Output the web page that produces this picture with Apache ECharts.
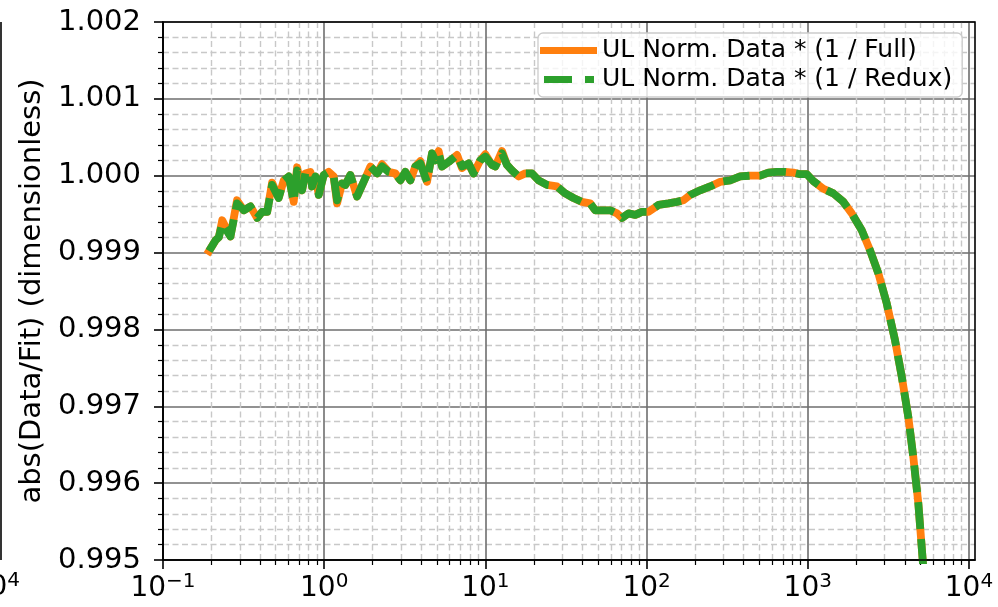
<!DOCTYPE html>
<html>
<head>
<meta charset="utf-8">
<script src="https://cdn.jsdelivr.net/npm/echarts@6/dist/echarts.min.js"></script>
<style>
  html, body { margin: 0; padding: 0; background: #fff; }
  #chart { width: 998px; height: 607px; }
</style>
</head>
<body>
<div id="chart"></div>
<script>
// x values (frequency), log-spaced axis
const freq = [
  0.193, 0.212, 0.222, 0.233, 0.262, 0.288, 0.317, 0.349, 0.384, 0.412,
  0.443, 0.475, 0.522, 0.561, 0.603, 0.647, 0.679, 0.729, 0.764, 0.821,
  0.841, 0.882, 0.925, 0.993, 1.066, 1.145, 1.202, 1.291, 1.353, 1.453,
  1.600, 1.801, 1.934, 2.128, 2.286, 2.512, 2.763, 2.968, 3.187, 3.422,
  3.676, 3.948, 4.345, 4.667, 4.892, 5.129, 5.383, 5.916, 6.668, 7.161,
  7.87, 8.45, 9.30, 9.99, 10.99, 11.52, 12.68, 13.61, 14.62, 16.07,
  17.68, 19.45, 21.38, 24.1, 27.8, 31.3, 35.2, 39.7, 44.7, 48.0,
  54.1, 59.5, 65.5, 70.3, 77.3, 85.0, 93.5, 102.8, 118.6, 136.8,
  154.2, 169.4, 186.3, 214.9, 247.9, 286.0, 329.9, 380.5, 438.9, 506.3,
  569.9, 642.5, 723.4, 814.4, 896.2, 985.8, 1083, 1250, 1441, 1662,
  1874, 2162, 2433, 2740, 3088, 3477, 3826, 4205, 4515, 4850,
  5164, 5413
];

const ratioFull = [
  0.99902, 0.99916, 0.99920, 0.99942, 0.99921, 0.99968, 0.99955, 0.99960, 0.99945, 0.99953,
  0.99953, 0.99991, 0.99971, 0.99994, 0.99999, 0.99966, 1.00011, 0.99981, 1.00003, 1.00005,
  0.99986, 0.99999, 0.99975, 1.00001, 1.00005, 0.99999, 0.99964, 0.99990, 0.99988, 1.00001,
  0.99973, 0.99997, 1.00012, 1.00003, 1.00015, 1.00005, 1.00003, 0.99994, 1.00005, 0.99994,
  1.00012, 1.00019, 0.99992, 1.00029, 1.00020, 1.00032, 1.00012, 1.00018, 1.00027, 1.00010,
  1.00016, 1.00003, 1.00020, 1.00028, 1.00014, 1.00012, 1.00032, 1.00014, 1.00007, 0.99999,
  1.00003, 1.00003, 0.99994, 0.99988, 0.99986, 0.99977, 0.99971, 0.99966, 0.99964, 0.99955,
  0.99955, 0.99955, 0.99951, 0.99945, 0.99951, 0.99949, 0.99953, 0.99953, 0.99962, 0.99964,
  0.99966, 0.99968, 0.99975, 0.99981, 0.99986, 0.99992, 0.99994, 0.99999, 1.00000, 1.00000,
  1.00004, 1.00005, 1.00005, 1.00004, 1.00002, 1.00002, 0.99993, 0.99983, 0.99977, 0.99966,
  0.99951, 0.99929, 0.99903, 0.99873, 0.99834, 0.99786, 0.99739, 0.99686, 0.99634, 0.99574,
  0.99500, 0.99448
];

const ratioRedux = [
  0.99902, 0.99916, 0.99920, 0.99938, 0.99921, 0.99964, 0.99955, 0.99960, 0.99945, 0.99953,
  0.99953, 0.99988, 0.99971, 0.99994, 0.99999, 0.99966, 1.00007, 0.99981, 1.00003, 1.00005,
  0.99986, 0.99999, 0.99975, 1.00001, 1.00005, 0.99999, 0.99968, 0.99990, 0.99988, 1.00001,
  0.99973, 0.99997, 1.00012, 1.00003, 1.00012, 1.00005, 1.00003, 0.99994, 1.00005, 0.99994,
  1.00012, 1.00016, 0.99992, 1.00029, 1.00020, 1.00029, 1.00012, 1.00018, 1.00027, 1.00012,
  1.00016, 1.00003, 1.00020, 1.00025, 1.00014, 1.00012, 1.00029, 1.00014, 1.00007, 0.99999,
  1.00003, 1.00003, 0.99994, 0.99988, 0.99986, 0.99977, 0.99971, 0.99966, 0.99964, 0.99955,
  0.99955, 0.99955, 0.99951, 0.99945, 0.99951, 0.99949, 0.99953, 0.99953, 0.99962, 0.99964,
  0.99966, 0.99968, 0.99975, 0.99981, 0.99986, 0.99992, 0.99994, 0.99999, 1.00000, 1.00000,
  1.00004, 1.00005, 1.00005, 1.00004, 1.00002, 1.00002, 0.99993, 0.99983, 0.99977, 0.99966,
  0.99951, 0.99929, 0.99903, 0.99873, 0.99834, 0.99786, 0.99739, 0.99686, 0.99634, 0.99574,
  0.99500, 0.99448
];

const seriesNames = ['UL Norm. Data * (1 / Full)', 'UL Norm. Data * (1 / Redux)'];
const xDecades = [-1, 0, 1, 2, 3, 4];      // labelled powers of ten
const xMinorMult = [2, 3, 4, 5, 6, 7, 8, 9];
const xMin = 0.1, xMax = 10900;
const yMin = 0.995, yMax = 1.002, yStep = 0.001;

const FONT = 'DejaVu Sans';
const lg = Math.log10;

// x axis is drawn in log10 space so minor decade lines can sit at 2..9
const toPoints = (ys) => freq.map((f, i) => [lg(f), ys[i]]);
const minorPos = [];
xDecades.slice(0, -1).forEach(e => xMinorMult.forEach(m => minorPos.push(e + lg(m))));

const rich = {
  b: { fontSize: 28, fontFamily: FONT, color: '#000' },
  s: { fontSize: 20, fontFamily: FONT, color: '#000', padding: [0, 0, 13, 0] }
};
const sup = (e) => '{b|10}{s|' + (e < 0 ? '\u2212' + (-e) : e) + '}';

const majorGrid = { color: '#6e6e6e', width: 1.6 };
const minorGrid = { color: '#c8c8c8', width: 1.4, type: [6, 3.5] };
const black = { color: '#000', width: 1.6 };

const chart = echarts.init(document.getElementById('chart'));
chart.setOption({
  animation: false,
  backgroundColor: '#fff',
  grid: {
    left: 163, right: 23, top: 22, bottom: 47,
    show: true, borderColor: '#000', borderWidth: 1.6, z: 10,
    outerBoundsMode: 'none'
  },
  legend: {
    orient: 'vertical',
    left: 538, top: 33,
    itemWidth: 57, itemHeight: 7, itemGap: 4,
    padding: [5, 10, 5, 2],
    backgroundColor: 'rgba(255,255,255,0.8)',
    borderColor: '#cccccc', borderWidth: 1.3, borderRadius: 5,
    textStyle: { fontSize: 25, fontFamily: FONT, color: '#000' },
    itemStyle: { borderWidth: 0 },
    data: [
      { name: seriesNames[0], icon: 'rect' },
      { name: seriesNames[1], icon: 'path://M0,3H0.01V3.01H0Z M4,0H32V7H4Z M45,0H54V7H45Z M57,3H57.01V3.01H57Z' }
    ]
  },
  xAxis: [
    {
      type: 'value', min: lg(xMin), max: lg(xMax),
      axisLine: { show: true, onZero: false, lineStyle: black },
      axisTick: { show: true, length: 9, lineStyle: black, customValues: xDecades },
      axisLabel: { customValues: xDecades, margin: 12, rich: rich,
        formatter: v => sup(Math.round(v)) },
      splitLine: { show: true, lineStyle: majorGrid }
    },
    {
      type: 'value', min: lg(xMin), max: lg(xMax), position: 'bottom',
      axisLine: { show: false, onZero: false },
      axisTick: { show: true, length: 5, lineStyle: { color: '#000', width: 1.2 }, customValues: minorPos },
      axisLabel: { show: false },
      splitLine: { show: true, lineStyle: minorGrid }
    }
  ],
  yAxis: {
    type: 'value', min: yMin, max: yMax, interval: yStep,
    name: 'abs(Data/Fit) (dimensionless)',
    nameLocation: 'middle', nameGap: 112,
    nameTextStyle: { fontSize: 29, fontFamily: FONT, color: '#000' },
    axisLine: { show: true, onZero: false, lineStyle: black },
    axisTick: { show: true, length: 9, lineStyle: black },
    minorTick: { show: true, splitNumber: 5, length: 5, lineStyle: { color: '#000', width: 1.2 } },
    axisLabel: { margin: 22, fontSize: 29, fontFamily: FONT, color: '#000',
      formatter: v => v.toFixed(3) },
    splitLine: { show: true, lineStyle: majorGrid },
    minorSplitLine: { show: true, lineStyle: minorGrid }
  },
  series: [
    {
      name: seriesNames[0], type: 'line', data: toPoints(ratioFull),
      symbol: 'none', showSymbol: false, color: '#ff7f0e', z: 3,
      lineStyle: { color: '#ff7f0e', width: 7.8, join: 'round', cap: 'square' }
    },
    {
      name: seriesNames[1], type: 'line', data: toPoints(ratioRedux),
      symbol: 'none', showSymbol: false, color: '#2ca02c', z: 4,
      lineStyle: { color: '#2ca02c', width: 7.8, type: [27, 10], join: 'round', cap: 'butt' }
    }
  ],
  graphic: [
    // edge of the neighbouring panel, cut off by the frame
    { type: 'line', shape: { x1: 1, y1: 22, x2: 1, y2: 560 }, style: { stroke: '#000', lineWidth: 1.6 } },
    { type: 'text', x: 20, y: 571, style: { text: sup(4), rich: rich, align: 'right', verticalAlign: 'top' } }
  ]
});
</script>
</body>
</html>
